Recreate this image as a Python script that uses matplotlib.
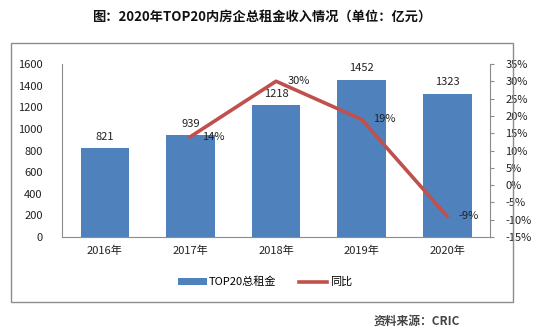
import matplotlib.pyplot as plt
from matplotlib.patches import Rectangle
from matplotlib.ticker import FuncFormatter

plt.rcParams['font.family'] = ['Noto Sans CJK SC', 'DejaVu Sans']

years = ['2016年', '2017年', '2018年', '2019年', '2020年']
rent = [821, 939, 1218, 1452, 1323]
yoy_years = ['2017年', '2018年', '2019年', '2020年']
yoy = [14, 30, 19, -9]

bar_color = '#4F81BD'
line_color = '#C0504D'

fig = plt.figure(figsize=(5.45, 3.33), dpi=100)
fig.patch.set_facecolor('white')

# outer frame around the chart
fig.patches.append(Rectangle((0.020, 0.093), 0.921, 0.778, transform=fig.transFigure,
                             fill=False, edgecolor='#8c8c8c', lw=1.0))

ax = fig.add_axes([0.114, 0.288, 0.785, 0.520])
x = list(range(len(years)))
bars = ax.bar(x, rent, width=0.57, color=bar_color, label='TOP20总租金', zorder=2)
for xi, v in zip(x, rent):
    ax.text(xi, v + 60, str(v), ha='center', va='bottom', fontsize=8, color='#222222')

ax.set_ylim(0, 1600)
ax.set_yticks(range(0, 1601, 200))
ax.set_xlim(-0.5, len(years) - 0.5)
ax.set_xticks(x)
ax.set_xticklabels(years)
ax.tick_params(axis='both', length=0, labelsize=8, colors='#222222')
ax.tick_params(axis='y', pad=14)
ax.tick_params(axis='x', pad=6)
for s in ['top', 'right']:
    ax.spines[s].set_visible(False)
ax.spines['left'].set_color('#8c8c8c')
ax.spines['bottom'].set_color('#8c8c8c')

ax2 = ax.twinx()
xl = [years.index(y) for y in yoy_years]
line, = ax2.plot(xl, yoy, color=line_color, lw=2.6, label='同比', zorder=3)
for xi, v in zip(xl, yoy):
    ax2.text(xi + 0.13, v, f'{v}%', ha='left', va='center', fontsize=8, color='#222222')
ax2.set_ylim(-15, 35)
ax2.set_yticks(range(-15, 36, 5))
ax2.yaxis.set_major_formatter(FuncFormatter(lambda v, p: f'{int(v)}%'))
ax2.tick_params(axis='y', direction='out', length=3, labelsize=8, colors='#222222', pad=8)
ax2.tick_params(axis='y', color='#8c8c8c')
for s in ['top', 'left', 'bottom']:
    ax2.spines[s].set_visible(False)
ax2.spines['right'].set_color('#8c8c8c')

fig.legend([bars, line], ['TOP20总租金', '同比'], loc='center', bbox_to_anchor=(0.486, 0.153),
           ncol=2, frameon=False, fontsize=8, handlelength=2.6, handleheight=0.6,
           columnspacing=2.0, handletextpad=0.2)

fig.text(0.48, 0.949, '图：2020年TOP20内房企总租金收入情况（单位：亿元）', ha='center', va='center',
         fontsize=9.5, fontweight='bold', color='#111111')
fig.text(0.844, 0.036, '资料来源：CRIC', ha='right', va='center', fontsize=8.5,
         fontweight='bold', color='#444444')

fig.savefig('out.png', dpi=100)
